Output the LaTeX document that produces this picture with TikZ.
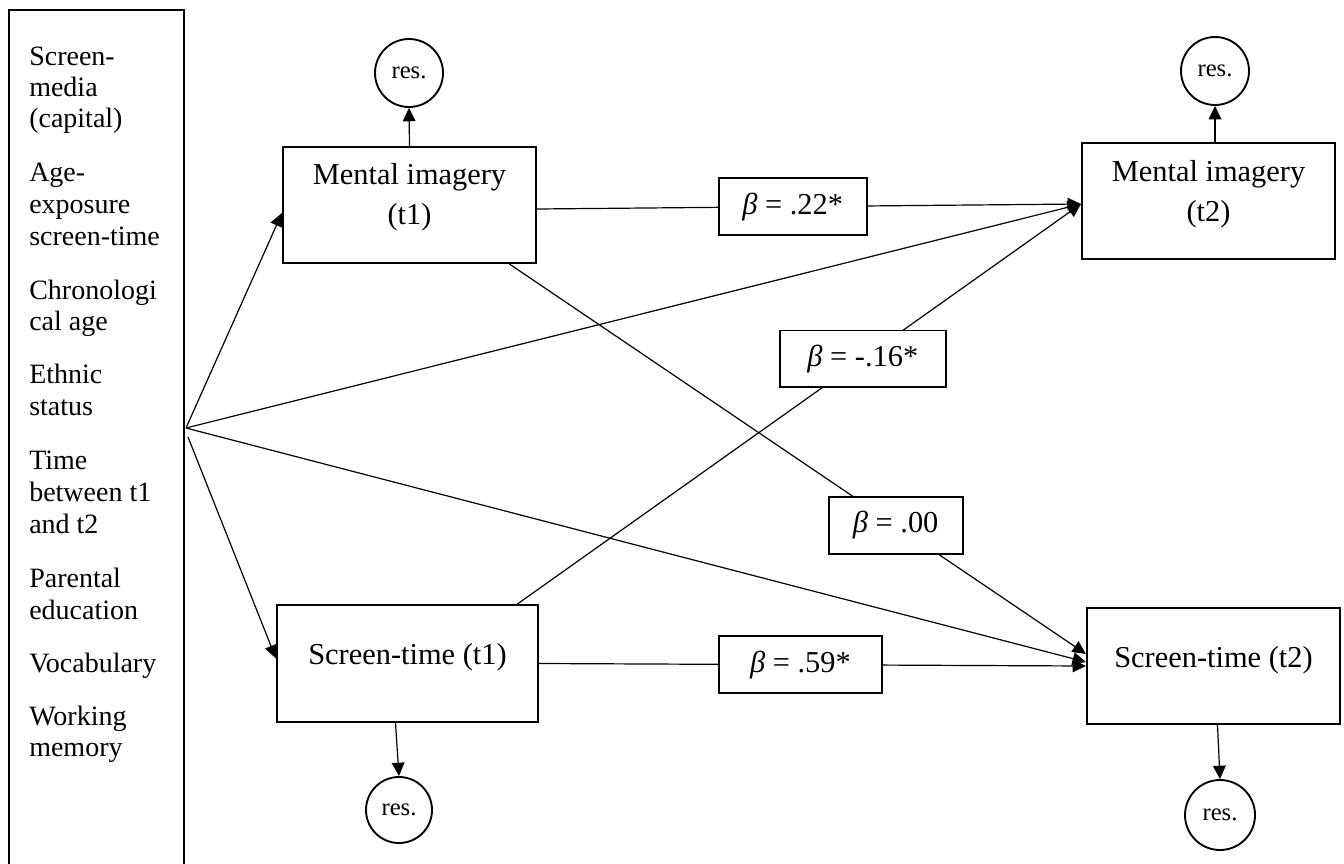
\documentclass[tikz,border=0pt]{standalone}
\usepackage{fontspec}
\setmainfont{Liberation Serif}
\usetikzlibrary{arrows.meta,calc}
\begin{document}
\begin{tikzpicture}[x=0.75pt,y=-0.75pt,
  box/.style={draw, line width=1.6pt, inner sep=0pt},
  bbox/.style={draw, line width=1.4pt, fill=white, inner sep=0pt, minimum height=42.5pt, font=\fontsize{22.8}{26}\selectfont},
  res/.style={circle, draw, line width=1.4pt, inner sep=0pt, font=\fontsize{18.5}{22}\selectfont},
  lab/.style={anchor=base, inner sep=0pt, font=\fontsize{22.8}{27}\selectfont},
  covtxt/.style={anchor=base west, inner sep=0pt, font=\fontsize{21}{24}\selectfont},
  conn/.style={line width=0.9pt},
  arr/.style={conn, -{Triangle[length=10pt,width=9.5pt]}}
]
\useasboundingbox (0,0) rectangle (1344,863);

% covariates box
\node[box, line width=1.7pt, minimum width=131.25pt, minimum height=645pt] (cov) at (96.5,440) {};
\foreach \yy/\txt [count=\i] in {65.7/Screen-, 96.7/media, 127.7/(capital),
  181.7/Age-, 213/exposure, 245/screen-time,
  299/Chronologi, 330/cal age,
  383/Ethnic, 415/status,
  469/Time, 501/between t1, 533/and t2,
  587/Parental, 619/education,
  672/Vocabulary,
  725/Working, 756/memory}
  \node[covtxt] (c\i) at (29,\yy) {\txt};

% main boxes
\node[box, minimum width=189.75pt, minimum height=87pt] (mi1) at (409.5,205) {};
\node[lab] (mi1a) at (409.5,185) {Mental imagery};
\node[lab] (mi1b) at (409.5,224) {(t1)};
\node[box, minimum width=189.75pt, minimum height=87pt] (mi2) at (1208.5,201) {};
\node[lab] (mi2a) at (1208.5,181) {Mental imagery};
\node[lab] (mi2b) at (1208.5,221) {(t2)};
\node[box, minimum width=195.75pt, minimum height=87.75pt] (st1) at (407.5,663.5) {};
\node[lab] (st1a) at (407.5,664) {Screen-time (t1)};
\node[box, minimum width=189.75pt, minimum height=87pt] (st2) at (1213.5,666) {};
\node[lab] (st2a) at (1213.5,667) {Screen-time (t2)};

% residuals
\node[res, minimum size=51pt] (r1) at (409,73) {res.};
\node[res, minimum size=51pt] (r2) at (1215,71) {res.};
\node[res, minimum size=49.5pt] (r3) at (399,810) {res.};
\node[res, minimum size=52.5pt] (r4) at (1220,815) {res.};

% connector points
\coordinate (src) at (186,428);
\coordinate (srcb) at (188,437);
\coordinate (mi2in) at ($(mi2.west)+(0,3)$);

% covariate paths
\draw[arr] (src) -- ($(mi1.west)+(0,8)$);
\draw[arr] (srcb) -- ($(st1.west)+(0,-5)$);
\draw[arr] (src) -- (mi2in);
\draw[arr] (src) -- ($(st2.west)+(0,-4)$);

% structural paths
\draw[arr] ($(mi1.east)+(0,4)$) -- node[bbox, minimum width=111pt, pos=0.47] (b22) {\textit{β} = .22*} (mi2in);
\draw[arr] ($(st1.north)+(110,0)$) -- node[bbox, minimum width=124.5pt, pos=0.613] (b16) {\textit{β} = -.16*} (mi2in);
\draw[arr] ($(mi1.south)+(100,0)$) -- node[bbox, minimum width=100.5pt, pos=0.67] (b00) {\textit{β} = .00} ($(st2.west)+(0,-12)$);
\draw[arr] (st1.east) -- node[bbox, minimum width=122.25pt, pos=0.478] (b59) {\textit{β} = .59*} (st2.west);

% residual arrows
\draw[arr] (mi1.north) -- (r1.south);
\draw[arr] (r2.south |- mi2.north) -- (r2.south);
\draw[arr] ($(st1.south)+(-12,0)$) -- (r3.north);
\draw[arr] ($(st2.south)+(4,0)$) -- (r4.north);
\end{tikzpicture}
\end{document}
